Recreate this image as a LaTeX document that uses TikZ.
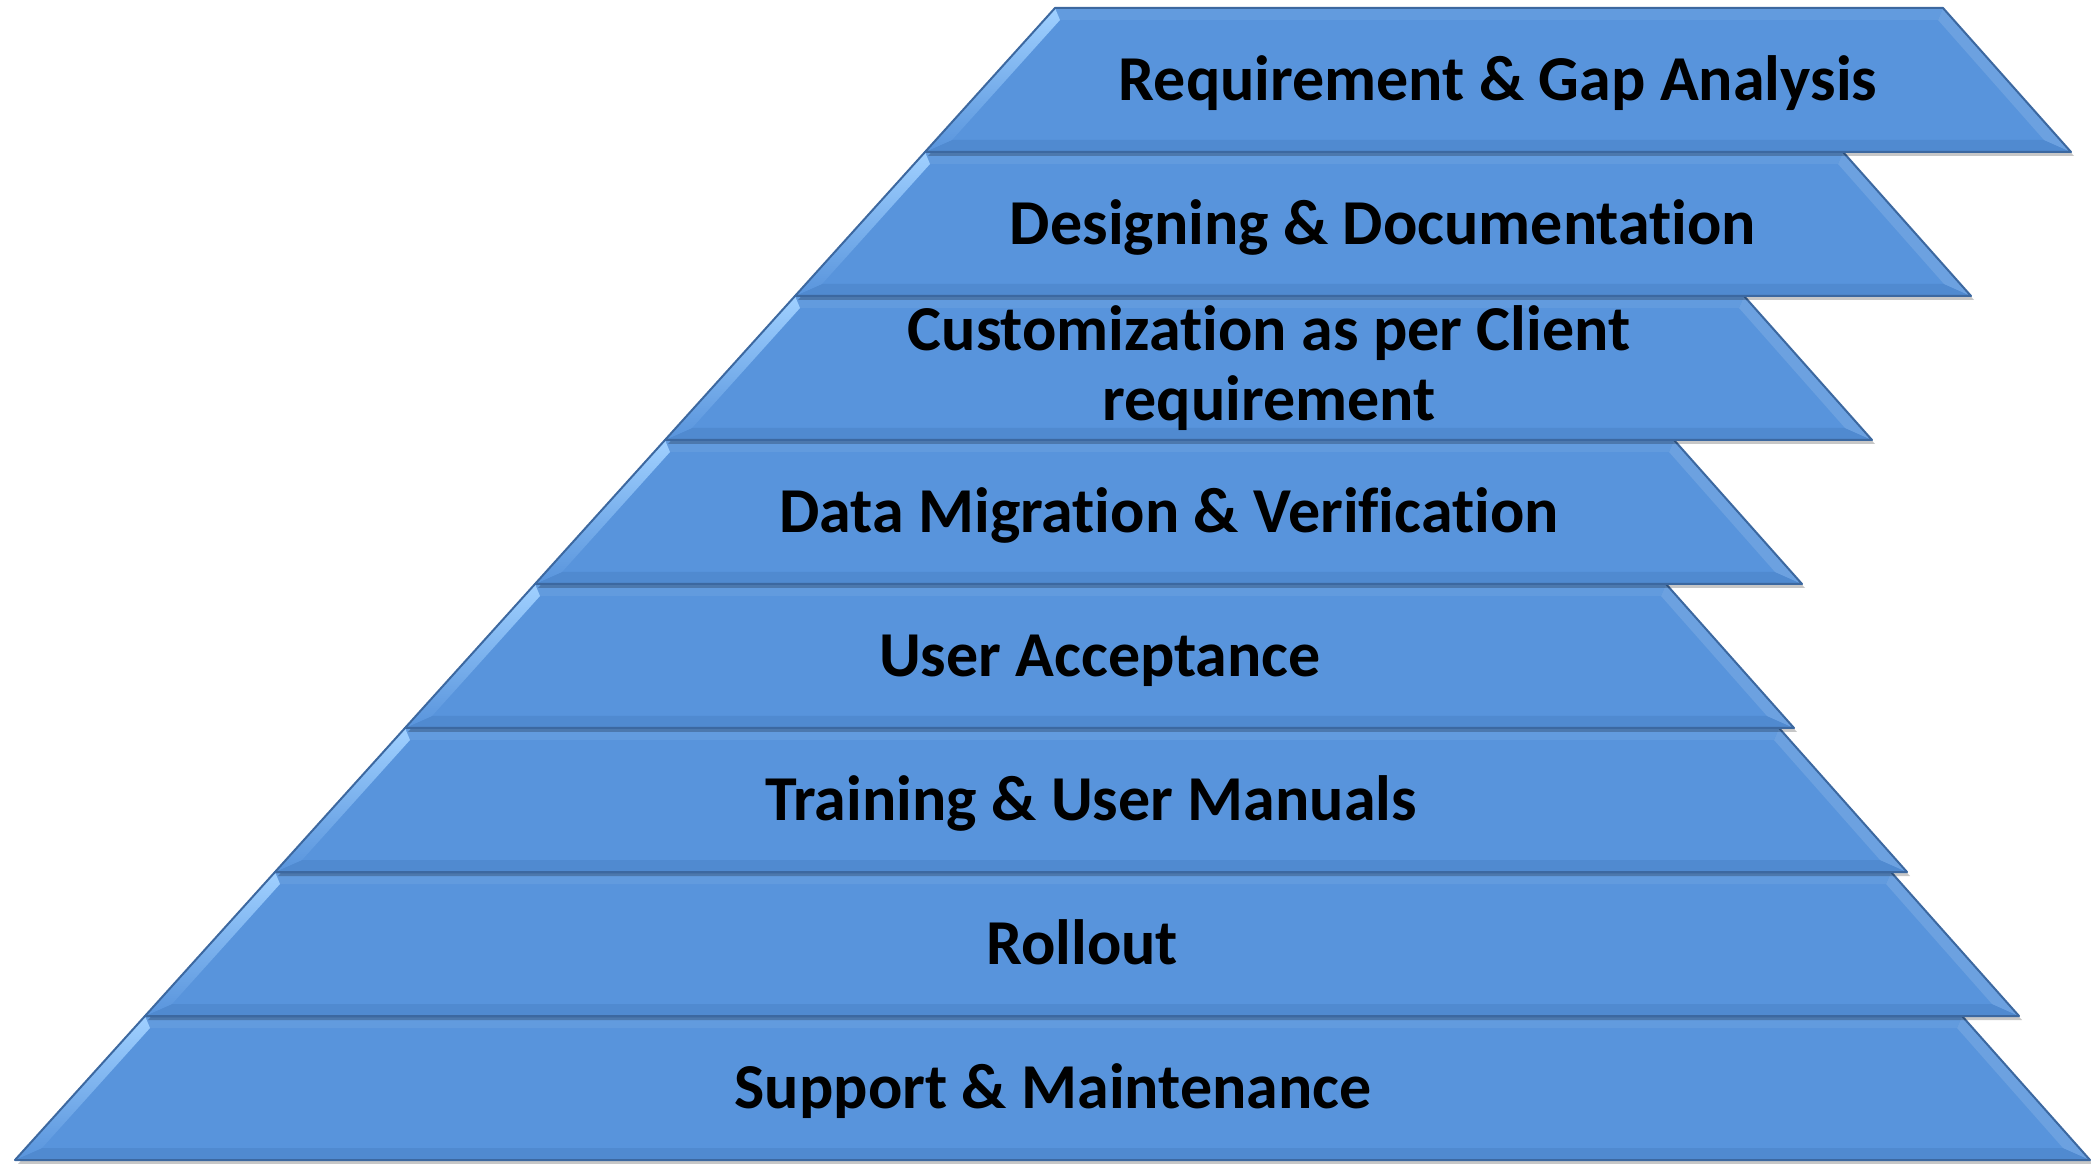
\documentclass[tikz,border=0pt]{standalone}
\usepackage{fontspec}
\setmainfont[Ligatures={NoCommon,NoContextual}]{Carlito}
\usetikzlibrary{calc}

\definecolor{bandblue}{RGB}{88,148,220}
\definecolor{banddark}{RGB}{60,104,160}
\definecolor{bandlight}{RGB}{160,208,255}
\definecolor{bandlow}{RGB}{80,138,208}

\tikzset{
  bandlabel/.style={font=\bfseries\fontsize{64}{70}\selectfont, text=black},
  oneline/.style={bandlabel, text height=51.5pt, text depth=10.5pt}
}

\begin{document}
\begin{tikzpicture}[x=1pt,y=1pt]

  % Fix the size of the page
  \useasboundingbox (0,0) rectangle (2091,1163);

  % Height of one band and shift of the sloped left side per band
  \def\H{144}
  \def\S{130}

  % Draw the bands from the bottom up
  % \i is the band number, \r the x of its bottom right corner
  \foreach \i/\r in {0/2090, 1/2019, 2/1907, 3/1794, 4/1802, 5/1872, 6/1971, 7/2071} {
    % Outer corners
    \coordinate (BL) at ({15+\S*\i}, {3+\H*\i});
    \coordinate (TL) at ({15+\S*(\i+1)}, {3+\H*(\i+1)});
    \coordinate (BR) at (\r, {3+\H*\i});
    \coordinate (TR) at ({\r-128}, {3+\H*(\i+1)});
    % Inner corners of the bevel
    \coordinate (bl) at ($(BL)+(27,12)$);
    \coordinate (tl) at ($(TL)+(5,-12)$);
    \coordinate (tr) at ($(TR)+(-5,-12)$);
    \coordinate (br) at ($(BR)+(-27,12)$);

    % Shadow
    \fill[black, opacity=0.22] ($(BL)+(3,-4)$) -- ($(TL)+(3,-4)$) -- ($(TR)+(3,-4)$) -- ($(BR)+(3,-4)$) -- cycle;

    % Face of the band
    \fill[bandblue] (BL) -- (TL) -- (TR) -- (BR) -- cycle;

    % Bevel on the four sides
    \fill[bandlow] (BL) -- (BR) -- (br) -- (bl) -- cycle;
    \fill[bandblue!88!white] (BR) -- (TR) -- (tr) -- (br) -- cycle;
    \fill[bandblue!94!white] (TL) -- (TR) -- (tr) -- (tl) -- cycle;
    \shade[top color=bandlight, bottom color=bandblue] (BL) -- (TL) -- (tl) -- (bl) -- cycle;

    % Outline
    \draw[banddark, line width=2pt, line join=round] (BL) -- (TL) -- (TR) -- (BR) -- cycle;
  }

  % Add the labels of the bands
  \node[oneline] (support) at (1053,75) {Support \& Maintenance};
  \node[oneline] (rollout) at (1082,219) {Rollout};
  \node[oneline] (training) at (1091,363) {Training \& User Manuals};
  \node[oneline] (uat) at (1100,507) {User Acceptance};
  \node[oneline] (migration) at (1169,651) {Data Migration \& Verification};
  \node[bandlabel, align=center] (custom) at (1269,795) {Customization as per Client\\requirement};
  \node[oneline] (design) at (1383,939) {Designing \& Documentation};
  \node[oneline] (gap) at (1498,1083) {Requirement \& Gap Analysis};

\end{tikzpicture}
\end{document}
